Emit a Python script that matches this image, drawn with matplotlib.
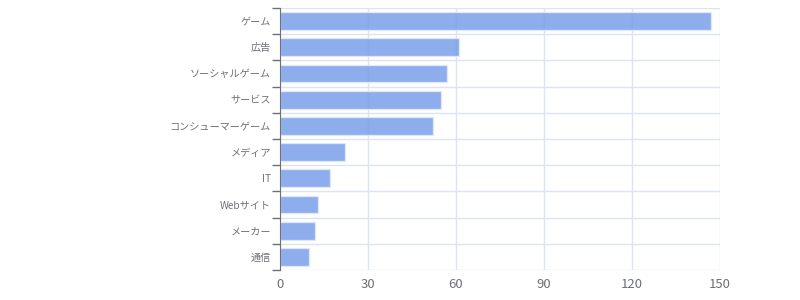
import numpy as np
import matplotlib
matplotlib.use("Agg")
import matplotlib.pyplot as plt

plt.rcParams['font.family'] = ['Noto Sans CJK JP', 'DejaVu Sans']

categories = ["ゲーム", "広告", "ソーシャルゲーム", "サービス", "コンシューマーゲーム",
              "メディア", "IT", "Webサイト", "メーカー", "通信"]
values = [147, 61, 57, 55, 52, 22, 17, 13, 12, 10]
xticks = [0, 30, 60, 90, 120, 150]

grid_color = "#dde3f3"
text_color = "#6e7079"

fig = plt.figure(figsize=(8, 3), dpi=100)
ax = fig.add_axes([0.35, 0.1, 0.55, 0.8733])

n = len(categories)
pos = np.arange(n)[::-1]
ax.barh(pos, values, height=0.68, color="#6f96e8", alpha=0.78,
        edgecolor="#e6edfb", linewidth=1, zorder=3)

ax.set_xlim(0, 150)
ax.set_ylim(-0.5, n - 0.5)
ax.set_xticks(xticks)
ax.set_yticks(pos)
ax.set_yticklabels(categories)
ax.set_yticks(np.arange(-0.5, n, 1), minor=True)

ax.grid(axis='x', which='major', color=grid_color, linewidth=1, zorder=0)
ax.grid(axis='y', which='minor', color=grid_color, linewidth=1, zorder=0)

ax.tick_params(axis='x', length=0, pad=5.5, labelsize=9.5, labelcolor=text_color)
ax.tick_params(axis='y', which='major', length=0, pad=6.5, labelsize=7.3, labelcolor=text_color)
ax.tick_params(axis='y', which='minor', length=6, width=1, color="#6e7079")

for s in ['top', 'right', 'bottom']:
    ax.spines[s].set_visible(False)
ax.spines['left'].set_color("#6e7079")
ax.spines['left'].set_zorder(4)

fig.savefig("out.png", dpi=100)
